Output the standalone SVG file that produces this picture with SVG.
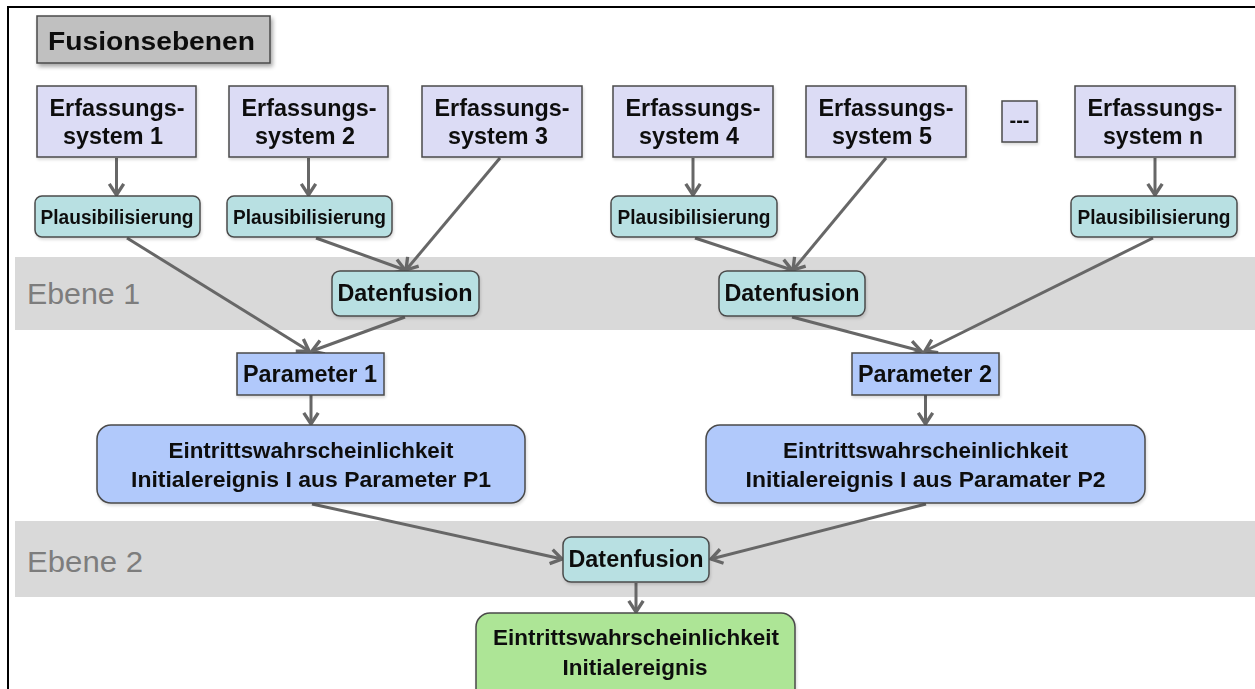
<svg xmlns="http://www.w3.org/2000/svg" width="1255" height="689" viewBox="0 0 1255 689">
  <defs>
    <style>
      .t { font-family: "Liberation Sans", Arial, sans-serif; font-weight: bold; fill: #111; text-anchor: middle; }
      .lvl { font-family: "Liberation Sans", Arial, sans-serif; font-size: 29px; fill: #7d7d7d; }
      .band { fill: #d9d9d9; }
      .erf { fill: #dcdcf5; stroke: #4a4a4a; stroke-width: 1.5; }
      .teal { fill: #b8e0e2; stroke: #4a4a4a; stroke-width: 1.5; }
      .par { fill: #b1c9fb; stroke: #4a4a4a; stroke-width: 1.5; }
      .res { fill: #ade596; stroke: #4a4a4a; stroke-width: 1.5; }
      .edge { stroke: #676767; stroke-width: 3; fill: none; marker-end: url(#arr); }
    </style>
    <marker id="arr" markerUnits="userSpaceOnUse" markerWidth="20" markerHeight="20" viewBox="-12 -9 14 18" refX="0" refY="0" orient="auto">
      <path d="M-10,-6.5 L0,0 L-10,6.5" fill="none" stroke="#676767" stroke-width="3" stroke-linejoin="miter"/>
    </marker>
    <filter id="sh" x="-10%" y="-10%" width="130%" height="140%">
      <feGaussianBlur in="SourceAlpha" stdDeviation="2"/>
      <feOffset dx="2" dy="3"/>
      <feComponentTransfer><feFuncA type="linear" slope="0.35"/></feComponentTransfer>
      <feMerge><feMergeNode/><feMergeNode in="SourceGraphic"/></feMerge>
    </filter>
    <filter id="shl" x="-10%" y="-10%" width="130%" height="140%">
      <feGaussianBlur in="SourceAlpha" stdDeviation="1.5"/>
      <feOffset dx="1" dy="2"/>
      <feComponentTransfer><feFuncA type="linear" slope="0.15"/></feComponentTransfer>
      <feMerge><feMergeNode/><feMergeNode in="SourceGraphic"/></feMerge>
    </filter>
  </defs>

  <rect width="1255" height="689" fill="#fff"/>
  <!-- outer frame (right and bottom edges run off the sheet) -->
  <rect x="8" y="7" width="1262" height="700" fill="none" stroke="#000" stroke-width="2"/>

  <!-- level bands -->
  <g id="ebene1">
    <rect class="band" x="15" y="257" width="1245" height="73"/>
    <text class="lvl" x="27" y="304" textLength="113" lengthAdjust="spacingAndGlyphs">Ebene 1</text>
  </g>
  <g id="ebene2">
    <rect class="band" x="15" y="521" width="1245" height="76"/>
    <text class="lvl" x="27" y="572" textLength="116" lengthAdjust="spacingAndGlyphs">Ebene 2</text>
  </g>

  <!-- title -->
  <g id="title" filter="url(#sh)">
    <rect x="37" y="16" width="233" height="47" fill="#c0c0c0" stroke="#4a4a4a" stroke-width="1.5"/>
    <text class="t" x="151.5" y="50" font-size="25" textLength="207" lengthAdjust="spacingAndGlyphs">Fusionsebenen</text>
  </g>

  <!-- connectors -->
  <g id="connectors">
    <line class="edge" x1="116.5" y1="158" x2="116.5" y2="195"/>
    <line class="edge" x1="308.5" y1="158" x2="308.5" y2="195"/>
    <line class="edge" x1="693" y1="158" x2="693" y2="195"/>
    <line class="edge" x1="1155" y1="158" x2="1155" y2="195"/>
    <line class="edge" x1="316" y1="238" x2="405" y2="270"/>
    <line class="edge" x1="500" y1="158" x2="406" y2="270"/>
    <line class="edge" x1="127" y1="238" x2="309" y2="351"/>
    <line class="edge" x1="405" y1="317" x2="312" y2="351"/>
    <line class="edge" x1="695" y1="238" x2="792" y2="270"/>
    <line class="edge" x1="886" y1="158" x2="793" y2="270"/>
    <line class="edge" x1="792" y1="317" x2="921" y2="351"/>
    <line class="edge" x1="1153" y1="238" x2="925" y2="351"/>
    <line class="edge" x1="311" y1="395" x2="311" y2="424"/>
    <line class="edge" x1="925.5" y1="395" x2="925.5" y2="424"/>
    <line class="edge" x1="312" y1="504" x2="562" y2="559"/>
    <line class="edge" x1="926" y1="504" x2="711" y2="559"/>
    <line class="edge" x1="636" y1="583" x2="636" y2="612"/>
  </g>

  <!-- acquisition systems -->
  <g id="erf1" filter="url(#shl)">
    <rect class="erf" x="37" y="86" width="159" height="71"/>
    <text class="t" x="117" y="116" font-size="23" textLength="135" lengthAdjust="spacingAndGlyphs">Erfassungs-</text>
    <text class="t" x="113" y="144" font-size="23" textLength="100" lengthAdjust="spacingAndGlyphs">system 1</text>
  </g>
  <g id="erf2" filter="url(#shl)">
    <rect class="erf" x="229" y="86" width="159" height="71"/>
    <text class="t" x="309" y="116" font-size="23" textLength="135" lengthAdjust="spacingAndGlyphs">Erfassungs-</text>
    <text class="t" x="305" y="144" font-size="23" textLength="100" lengthAdjust="spacingAndGlyphs">system 2</text>
  </g>
  <g id="erf3" filter="url(#shl)">
    <rect class="erf" x="422" y="86" width="160" height="71"/>
    <text class="t" x="502" y="116" font-size="23" textLength="135" lengthAdjust="spacingAndGlyphs">Erfassungs-</text>
    <text class="t" x="498" y="144" font-size="23" textLength="100" lengthAdjust="spacingAndGlyphs">system 3</text>
  </g>
  <g id="erf4" filter="url(#shl)">
    <rect class="erf" x="613" y="86" width="160" height="71"/>
    <text class="t" x="693" y="116" font-size="23" textLength="135" lengthAdjust="spacingAndGlyphs">Erfassungs-</text>
    <text class="t" x="689" y="144" font-size="23" textLength="100" lengthAdjust="spacingAndGlyphs">system 4</text>
  </g>
  <g id="erf5" filter="url(#shl)">
    <rect class="erf" x="806" y="86" width="160" height="71"/>
    <text class="t" x="886" y="116" font-size="23" textLength="135" lengthAdjust="spacingAndGlyphs">Erfassungs-</text>
    <text class="t" x="882" y="144" font-size="23" textLength="100" lengthAdjust="spacingAndGlyphs">system 5</text>
  </g>
  <g id="ellipsis" filter="url(#shl)">
    <rect class="erf" x="1002" y="101" width="35" height="41"/>
    <text class="t" x="1019.5" y="127" font-size="20">---</text>
  </g>
  <g id="erfn" filter="url(#shl)">
    <rect class="erf" x="1075" y="86" width="160" height="71"/>
    <text class="t" x="1155" y="116" font-size="23" textLength="135" lengthAdjust="spacingAndGlyphs">Erfassungs-</text>
    <text class="t" x="1153" y="144" font-size="23" textLength="100" lengthAdjust="spacingAndGlyphs">system n</text>
  </g>

  <!-- plausibility checks -->
  <g id="plaus1" filter="url(#shl)">
    <rect class="teal" x="35" y="196" width="165" height="41" rx="7"/>
    <text class="t" x="117" y="224" font-size="20" textLength="153" lengthAdjust="spacingAndGlyphs">Plausibilisierung</text>
  </g>
  <g id="plaus2" filter="url(#shl)">
    <rect class="teal" x="227" y="196" width="165" height="41" rx="7"/>
    <text class="t" x="309.5" y="224" font-size="20" textLength="153" lengthAdjust="spacingAndGlyphs">Plausibilisierung</text>
  </g>
  <g id="plaus4" filter="url(#shl)">
    <rect class="teal" x="611" y="196" width="166" height="41" rx="7"/>
    <text class="t" x="694" y="224" font-size="20" textLength="153" lengthAdjust="spacingAndGlyphs">Plausibilisierung</text>
  </g>
  <g id="plausn" filter="url(#shl)">
    <rect class="teal" x="1071" y="196" width="166" height="41" rx="7"/>
    <text class="t" x="1154" y="224" font-size="20" textLength="153" lengthAdjust="spacingAndGlyphs">Plausibilisierung</text>
  </g>

  <!-- level 1 fusion -->
  <g id="fusion1" filter="url(#shl)">
    <rect class="teal" x="332" y="271" width="147" height="45" rx="8"/>
    <text class="t" x="405" y="301" font-size="23" textLength="135" lengthAdjust="spacingAndGlyphs">Datenfusion</text>
  </g>
  <g id="fusion2" filter="url(#shl)">
    <rect class="teal" x="719" y="271" width="146" height="45" rx="8"/>
    <text class="t" x="792" y="301" font-size="23" textLength="135" lengthAdjust="spacingAndGlyphs">Datenfusion</text>
  </g>

  <!-- parameters -->
  <g id="param1" filter="url(#shl)">
    <rect class="par" x="237" y="353" width="147" height="42"/>
    <text class="t" x="310" y="382" font-size="23" textLength="134" lengthAdjust="spacingAndGlyphs">Parameter 1</text>
  </g>
  <g id="param2" filter="url(#shl)">
    <rect class="par" x="852" y="353" width="147" height="42"/>
    <text class="t" x="925" y="382" font-size="23" textLength="134" lengthAdjust="spacingAndGlyphs">Parameter 2</text>
  </g>

  <!-- probabilities per parameter -->
  <g id="prob1" filter="url(#shl)">
    <rect class="par" x="97" y="425" width="428" height="78" rx="14"/>
    <text class="t" x="311" y="458" font-size="22" textLength="285" lengthAdjust="spacingAndGlyphs">Eintrittswahrscheinlichkeit</text>
    <text class="t" x="311" y="487" font-size="22" textLength="360" lengthAdjust="spacingAndGlyphs">Initialereignis I aus Parameter P1</text>
  </g>
  <g id="prob2" filter="url(#shl)">
    <rect class="par" x="706" y="425" width="439" height="78" rx="14"/>
    <text class="t" x="925.5" y="458" font-size="22" textLength="285" lengthAdjust="spacingAndGlyphs">Eintrittswahrscheinlichkeit</text>
    <text class="t" x="925.5" y="487" font-size="22" textLength="360" lengthAdjust="spacingAndGlyphs">Initialereignis I aus Paramater P2</text>
  </g>

  <!-- level 2 fusion -->
  <g id="fusion3" filter="url(#shl)">
    <rect class="teal" x="563" y="537" width="146" height="45" rx="8"/>
    <text class="t" x="636" y="567" font-size="23" textLength="135" lengthAdjust="spacingAndGlyphs">Datenfusion</text>
  </g>

  <!-- overall result -->
  <g id="result" filter="url(#shl)">
    <rect class="res" x="476" y="613" width="319" height="90" rx="14"/>
    <text class="t" x="636" y="645" font-size="22" textLength="286" lengthAdjust="spacingAndGlyphs">Eintrittswahrscheinlichkeit</text>
    <text class="t" x="635" y="675" font-size="22" textLength="145" lengthAdjust="spacingAndGlyphs">Initialereignis</text>
  </g>
</svg>
